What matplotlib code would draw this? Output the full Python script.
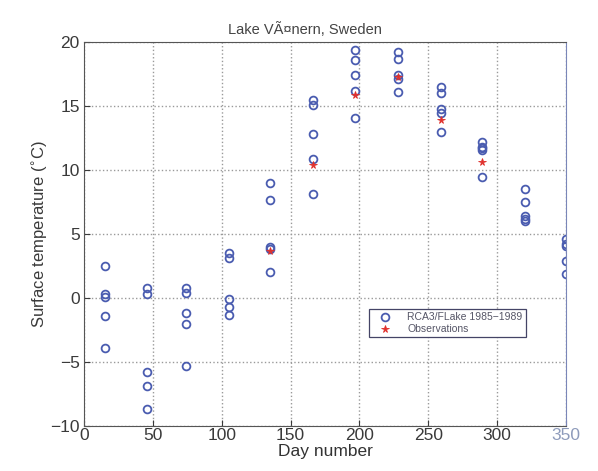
import matplotlib
matplotlib.use("Agg")
from matplotlib import pyplot as plt
import numpy as np

plt.rcParams['font.family'] = ['Liberation Sans', 'DejaVu Sans']

# model days and the 5 simulated years (1985-1989) per day
days = [15, 46, 74, 105, 135, 166, 197, 228, 259, 289, 320, 350]
model_temps = [
    [2.5, 0.3, 0.1, -1.4, -3.9],
    [0.8, 0.3, -5.8, -6.9, -8.7],
    [0.8, 0.4, -1.2, -2.0, -5.3],
    [3.5, 3.1, -0.1, -0.7, -1.3],
    [9.0, 7.7, 4.0, 3.8, 2.0],
    [15.5, 15.1, 12.8, 10.9, 8.1],
    [19.4, 18.6, 17.4, 16.2, 14.1],
    [19.2, 18.7, 17.4, 17.1, 16.1],
    [16.5, 16.0, 14.8, 14.5, 13.0],
    [12.2, 11.8, 11.7, 11.6, 9.5],
    [8.5, 7.5, 6.4, 6.2, 6.0],
    [4.6, 4.2, 4.1, 2.9, 1.9],
]

obs_days = [135, 166, 197, 228, 259, 289]
obs_temps = [3.7, 10.4, 15.9, 17.3, 13.9, 10.6]

blue = "#4a5cb0"
red = "#e0302c"

fig = plt.figure(figsize=(5.98, 4.71), dpi=100)
ax = fig.add_axes([0.1405, 0.0955, 0.806, 0.815])

xs = np.repeat(days, 5)
ys = np.array(model_temps).ravel()
ax.plot(xs, ys, "o", mfc="none", mec=blue, ms=5.6, mew=1.3, label="RCA3/FLake 1985\u22121989")
ax.plot(obs_days, obs_temps, "*", color=red, ms=5.5, mew=0.6, label="Observations")

ax.set_xlim(0, 350)
ax.set_ylim(-10, 20)
ax.set_xticks(np.arange(0, 351, 50))
ax.set_yticks(np.arange(-10, 21, 5))
ax.grid(True, linestyle=":", color="#9a9a9a", linewidth=1.0)
ax.tick_params(direction="in", labelsize=12.5, colors="#3a3a3a", length=4, pad=3)
ax.tick_params(axis="x", pad=1.5)
for s in ax.spines.values():
    s.set_color("#555555")
ax.spines["right"].set_color("#7a86b8")
ax.get_xticklabels()[-1].set_color("#8e9bbb")

ax.set_title("Lake VÃ¤nern, Sweden", fontsize=10.5, color="#444444", pad=6, x=0.458)
ax.set_xlabel("Day number", fontsize=12.5, color="#333333", labelpad=1)
ax.set_ylabel("Surface temperature ($^{\\circ}$C)", fontsize=12, color="#3a3a3a", labelpad=0)

leg = ax.legend(loc="upper left", bbox_to_anchor=(0.58, 0.318), fontsize=7.5,
                fancybox=False, framealpha=1, edgecolor="#444466",
                handlelength=2.6, borderpad=0.3, labelspacing=0.2)
leg.get_frame().set_linewidth(0.9)
for t in leg.get_texts():
    t.set_color("#555566")

fig.savefig("out.png", dpi=100)
